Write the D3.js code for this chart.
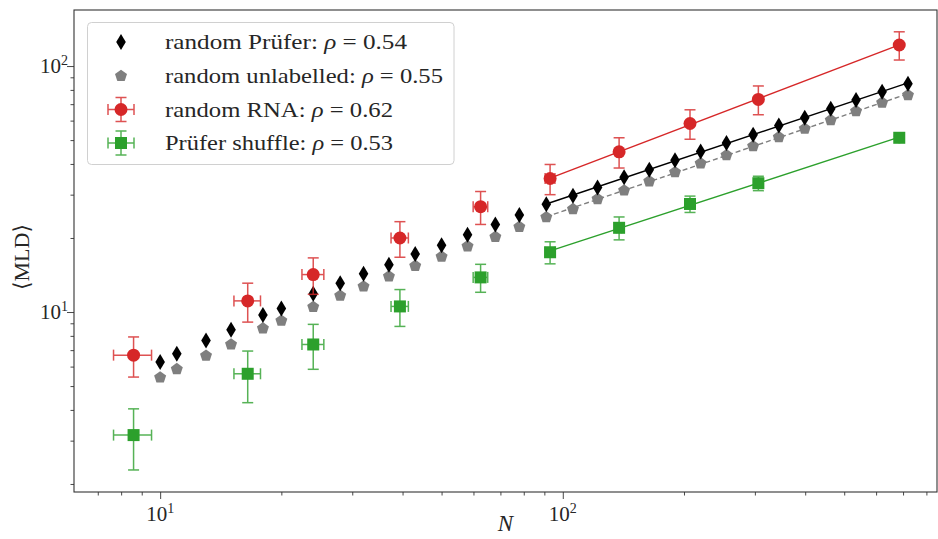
<!DOCTYPE html>
<html><head><meta charset="utf-8">
<script src="https://cdn.jsdelivr.net/npm/d3@7"></script>
<style>body{margin:0;background:#fff}svg{display:block}text{font-family:"Liberation Serif","DejaVu Serif",serif;fill:#262626}</style>
</head><body><svg id="c" width="938" height="539"></svg>
<script>
// ---- data ----
const pruferN = [10,11,13,15,18,20,24,28,32,37,43,50,58,68,78,91,106,122,142,164,190,220,255,297,344,399,463,535,621,720];
const pruferMLD = [6.26,6.77,7.66,8.47,9.72,10.34,11.87,13.1,14.3,15.58,17.2,18.7,20.6,22.7,24.8,27.4,29.7,32.1,35.3,37.9,41.4,44.9,48.7,52.6,57.3,61.7,67.1,72.7,78.7,84.7];
const unlabelledMLD = [5.42,5.86,6.64,7.38,8.58,9.22,10.48,11.65,12.7,13.96,15.4,16.8,18.5,20.2,22.2,24.3,26.2,28.8,31.2,34.0,37.0,40.2,43.4,47.2,51.4,55.6,60.3,65.6,71.0,76.2];
const sampleN = [8.59,16.5,24.0,39.4,62.5,93.0,138,207,306,685];
const sampleNerr = [0.93,1.25,1.5,1.95,2.6,2.6,2,2,2,2];
const rnaMLD = [6.68,11.1,14.2,20.0,26.8,34.9,44.8,58.4,73.2,121.8];
const rnaErr = [1.24,2.0,2.4,3.3,4.1,4.9,6.3,8.0,9.8,16];
const shuffleMLD = [3.16,5.61,7.38,10.54,13.83,17.5,22.0,27.5,33.4,51.1];
const shuffleErr = [0.88,1.33,1.53,1.8,1.8,1.8,2.35,2.1,2.25,0.8];
const fitMinN = 90;
const legendLabels = [["random Prüfer: ","0.54"],["random unlabelled: ","0.55"],["random RNA: ","0.62"],["Prüfer shuffle: ","0.53"]];
const xTicks = [10,100], yTicks = [10,100];

const RED="#d62728", GREEN="#2ca02c", GRAY="#7f7f7f", BLACK="#000";
const svg = d3.select("#c");
const L=74,R=937,T=10,B=492;
const x = d3.scaleLog().domain([6.11,850]).range([L,R]);
const y = d3.scaleLog().domain([1.855,169]).range([B,T]);

// minor ticks
function minors(lo,hi){const a=[];for(let e=0;e<=3;e++)for(let k=2;k<=9;k++){const v=k*Math.pow(10,e);if(v>=lo&&v<=hi)a.push(v);}return a;}
const ax = svg.append("g");
ax.append("g").attr("transform",`translate(0,${B})`).call(d3.axisBottom(x).tickValues(minors(6.11,850)).tickSize(3.5).tickFormat(""));
ax.append("g").attr("transform",`translate(${L},0)`).call(d3.axisLeft(y).tickValues(minors(1.855,169)).tickSize(3.5).tickFormat(""));
ax.append("g").attr("transform",`translate(0,${B})`).call(d3.axisBottom(x).tickValues(xTicks).tickSize(7).tickFormat(""));
ax.append("g").attr("transform",`translate(${L},0)`).call(d3.axisLeft(y).tickValues(yTicks).tickSize(7).tickFormat(""));
ax.selectAll(".domain").remove();
ax.selectAll(".tick line").attr("stroke","#333").attr("stroke-width",0.9);
function expLabel(g,v){const t=g.append("text").attr("font-size",21);t.append("tspan").text("10");t.append("tspan").attr("font-size",14).attr("dy",-8).text(Math.round(Math.log10(v)));return t;}
xTicks.forEach(v=>{expLabel(svg,v).attr("x",x(v)).attr("y",B+29).attr("text-anchor","middle");});
yTicks.forEach(v=>{expLabel(svg,v).attr("x",L-6).attr("y",y(v)+7).attr("text-anchor","end");});
svg.append("rect").attr("x",L).attr("y",T).attr("width",R-L).attr("height",B-T).attr("fill","none").attr("stroke","#333").attr("stroke-width",1.1);

// axis labels
svg.append("text").attr("x",(L+R)/2).attr("y",531).attr("text-anchor","middle").attr("font-size",23).attr("font-style","italic").text("N");
svg.append("text").attr("transform",`translate(29,${(T+B)/2+6}) rotate(-90)`).attr("text-anchor","middle").attr("font-size",22).text("⟨MLD⟩");

// fits (least squares in log-log for N >= fitMinN)
function fitLine(N,V,color,dash){
  const idx=N.map((n,i)=>i).filter(i=>N[i]>=fitMinN);
  const lx=idx.map(i=>Math.log(N[i])), ly=idx.map(i=>Math.log(V[i]));
  const mx=d3.mean(lx), my=d3.mean(ly);
  const b=d3.sum(lx.map((v,i)=>(v-mx)*(ly[i]-my)))/d3.sum(lx.map(v=>(v-mx)*(v-mx)));
  const a=my-b*mx;
  const n0=d3.min(idx.map(i=>N[i])), n1=d3.max(idx.map(i=>N[i]));
  const line=d3.line().x(d=>x(d)).y(d=>y(Math.exp(a+b*Math.log(d))));
  svg.append("path").attr("d",line([n0,n1])).attr("fill","none").attr("stroke",color).attr("stroke-width",1.4).attr("stroke-dasharray",dash||null);
}
fitLine(pruferN,pruferMLD,BLACK);
fitLine(pruferN,unlabelledMLD,GRAY,"5,3");
fitLine(sampleN,rnaMLD,RED);
fitLine(sampleN,shuffleMLD,GREEN);

// marker paths
const diamondPath = "M0,-8 L4.8,0 L0,8 L-4.8,0 Z";
const pentPath = (()=>{const r=6.3;const p=d3.range(5).map(k=>{const a=-Math.PI/2+k*2*Math.PI/5;return [r*Math.cos(a),r*Math.sin(a)];});return "M"+p.map(q=>q.join(",")).join("L")+"Z";})();

function errorbars(g,px,py,x0,x1,y0,y1,color){
  const e=g.append("g").attr("stroke",color).attr("stroke-width",1.5).attr("opacity",0.8);
  e.append("line").attr("x1",px).attr("x2",px).attr("y1",y0).attr("y2",y1);
  e.append("line").attr("x1",x0).attr("x2",x1).attr("y1",py).attr("y2",py);
  [y0,y1].forEach(v=>e.append("line").attr("x1",px-5.5).attr("x2",px+5.5).attr("y1",v).attr("y2",v));
  [x0,x1].forEach(v=>e.append("line").attr("x1",v).attr("x2",v).attr("y1",py-5.5).attr("y2",py+5.5));
}

// unlabelled pentagons
svg.append("g").selectAll("path").data(pruferN).join("path").attr("d",pentPath).attr("fill",GRAY)
  .attr("transform",(d,i)=>`translate(${x(d)},${y(unlabelledMLD[i])})`);
// Prüfer diamonds
svg.append("g").selectAll("path").data(pruferN).join("path").attr("d",diamondPath).attr("fill",BLACK)
  .attr("transform",(d,i)=>`translate(${x(d)},${y(pruferMLD[i])})`);
// RNA
const gr=svg.append("g");
sampleN.forEach((n,i)=>{errorbars(gr,x(n),y(rnaMLD[i]),x(n-sampleNerr[i]),x(n+sampleNerr[i]),y(rnaMLD[i]+rnaErr[i]),y(rnaMLD[i]-rnaErr[i]),RED);});
gr.selectAll("circle").data(sampleN).join("circle").attr("cx",d=>x(d)).attr("cy",(d,i)=>y(rnaMLD[i])).attr("r",6.5).attr("fill",RED);
// shuffle
const gs=svg.append("g");
sampleN.forEach((n,i)=>{errorbars(gs,x(n),y(shuffleMLD[i]),x(n-sampleNerr[i]),x(n+sampleNerr[i]),y(shuffleMLD[i]+shuffleErr[i]),y(shuffleMLD[i]-shuffleErr[i]),GREEN);});
gs.selectAll("rect").data(sampleN).join("rect").attr("x",d=>x(d)-6).attr("y",(d,i)=>y(shuffleMLD[i])-6).attr("width",12).attr("height",12).attr("fill",GREEN);

// legend
const lg=svg.append("g");
lg.append("rect").attr("x",87.5).attr("y",22.5).attr("width",366.5).attr("height",142).attr("rx",4).attr("fill","#fff").attr("fill-opacity",0.85).attr("stroke","#d0d0d0");
const rowY=[42,76,109.5,143];
lg.append("path").attr("d",diamondPath).attr("fill",BLACK).attr("transform",`translate(121,${rowY[0]})`);
lg.append("path").attr("d",pentPath).attr("fill",GRAY).attr("transform",`translate(121,${rowY[1]})`);
errorbars(lg,121,rowY[2],108,134,rowY[2]-12,rowY[2]+12,RED);
lg.append("circle").attr("cx",121).attr("cy",rowY[2]).attr("r",6.5).attr("fill",RED);
errorbars(lg,121,rowY[3],108,134,rowY[3]-12,rowY[3]+12,GREEN);
lg.append("rect").attr("x",115).attr("y",rowY[3]-6).attr("width",12).attr("height",12).attr("fill",GREEN);
const widths=[242,278,228,228];
legendLabels.forEach((lab,i)=>{
  const t=lg.append("text").attr("x",165).attr("y",rowY[i]+7).attr("font-size",21);
  t.append("tspan").text(lab[0]);
  t.append("tspan").attr("font-style","italic").text("ρ");
  t.append("tspan").text(" = "+lab[1]);
  const w=t.node().getComputedTextLength();
  if(Math.abs(w-widths[i])>3) t.attr("textLength",widths[i]).attr("lengthAdjust","spacingAndGlyphs");
});
</script></body></html>
